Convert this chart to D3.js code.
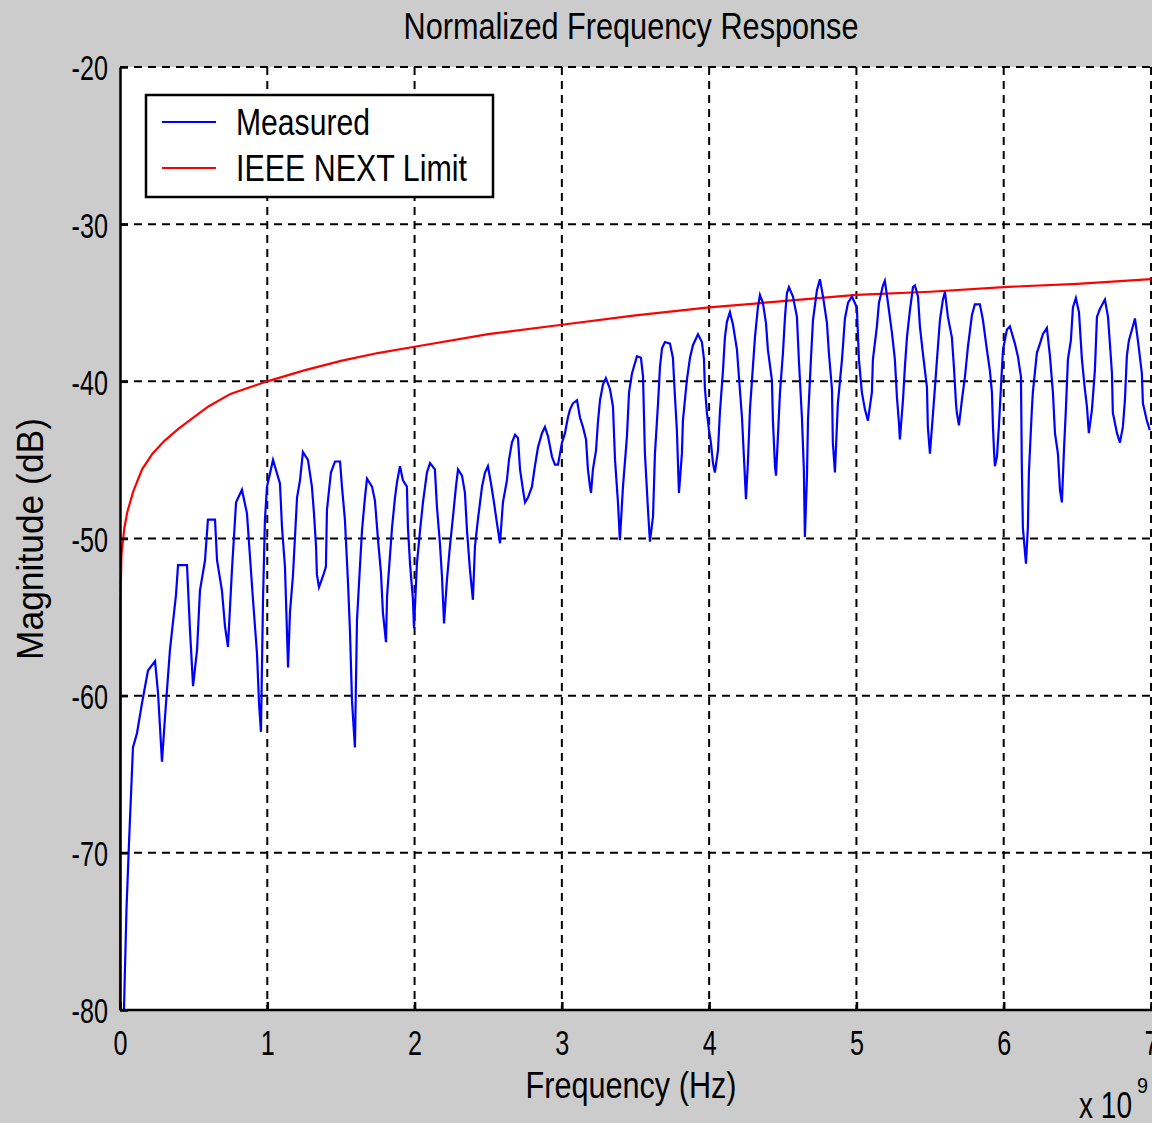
<!DOCTYPE html>
<html lang="en">
<head>
<meta charset="UTF-8">
<title>Normalized Frequency Response</title>
<style>
    body {
        margin: 0;
        background: #cccccc;
    }

    svg text {
        font-family: "Liberation Sans", Arial, sans-serif;
        fill: #000;
    }

    .grid line {
        stroke: #000;
        stroke-width: 2;
        stroke-dasharray: 8, 6;
    }

    .x_axis path,
    .y_axis path,
    .x_axis line,
    .y_axis line {
        stroke: #000;
        stroke-width: 2.5;
    }
</style>
</head>
<body>
<script src="https://cdn.jsdelivr.net/npm/d3@7"></script>
<script>
// measured response, frequency in GHz (axis is x 10^9 Hz)
const measuredFreq = [
    0.015, 0.027, 0.031, 0.044, 0.061, 0.088, 0.115, 0.149, 0.190, 0.238, 0.258, 0.285, 0.306, 0.339, 0.380, 0.394,
    0.455, 0.475, 0.489, 0.496, 0.523, 0.543, 0.577, 0.597, 0.645, 0.659, 0.692, 0.713, 0.733, 0.760, 0.788, 0.828,
    0.862, 0.903, 0.930, 0.944, 0.957, 0.971, 0.984, 0.998, 1.039, 1.086, 1.100, 1.120, 1.141, 1.154, 1.174, 1.202,
    1.222, 1.242, 1.276, 1.303, 1.317, 1.331, 1.337, 1.351, 1.378, 1.398, 1.405, 1.432, 1.460, 1.494, 1.507, 1.527,
    1.548, 1.561, 1.575, 1.595, 1.609, 1.629, 1.643, 1.663, 1.677, 1.711, 1.731, 1.752, 1.772, 1.785, 1.806, 1.813,
    1.826, 1.847, 1.867, 1.881, 1.901, 1.921, 1.948, 1.955, 1.969, 1.989, 1.996, 2.016, 2.037, 2.057, 2.084, 2.105,
    2.138, 2.152, 2.172, 2.186, 2.193, 2.200, 2.220, 2.240, 2.261, 2.281, 2.295, 2.322, 2.342, 2.356, 2.376, 2.396,
    2.410, 2.430, 2.458, 2.478, 2.498, 2.519, 2.539, 2.559, 2.580, 2.600, 2.627, 2.641, 2.661, 2.682, 2.702, 2.716,
    2.736, 2.750, 2.770, 2.797, 2.817, 2.838, 2.865, 2.885, 2.906, 2.933, 2.953, 2.974, 3.001, 3.021, 3.041, 3.055,
    3.075, 3.103, 3.123, 3.143, 3.164, 3.177, 3.191, 3.198, 3.211, 3.232, 3.245, 3.259, 3.279, 3.299, 3.327, 3.347,
    3.361, 3.381, 3.394, 3.415, 3.442, 3.456, 3.476, 3.510, 3.537, 3.551, 3.564, 3.585, 3.598, 3.619, 3.632, 3.653,
    3.666, 3.680, 3.700, 3.734, 3.754, 3.768, 3.781, 3.795, 3.815, 3.822, 3.849, 3.870, 3.890, 3.924, 3.951, 3.965,
    3.971, 3.985, 3.999, 4.012, 4.026, 4.039, 4.060, 4.073, 4.094, 4.107, 4.121, 4.141, 4.162, 4.189, 4.202, 4.223,
    4.236, 4.250, 4.263, 4.277, 4.297, 4.311, 4.331, 4.345, 4.365, 4.386, 4.399, 4.426, 4.433, 4.447, 4.454, 4.467,
    4.481, 4.501, 4.515, 4.528, 4.542, 4.569, 4.596, 4.610, 4.630, 4.643, 4.650, 4.664, 4.671, 4.691, 4.705, 4.732,
    4.752, 4.773, 4.800, 4.813, 4.834, 4.840, 4.854, 4.874, 4.902, 4.922, 4.943, 4.970, 5.003, 5.017, 5.037, 5.058,
    5.078, 5.105, 5.112, 5.139, 5.153, 5.180, 5.193, 5.214, 5.241, 5.261, 5.275, 5.289, 5.295, 5.316, 5.329, 5.343,
    5.363, 5.384, 5.397, 5.418, 5.431, 5.451, 5.479, 5.485, 5.499, 5.513, 5.533, 5.547, 5.567, 5.587, 5.601, 5.621,
    5.648, 5.662, 5.676, 5.682, 5.696, 5.716, 5.737, 5.757, 5.784, 5.804, 5.838, 5.859, 5.886, 5.906, 5.920, 5.927,
    5.934, 5.940, 5.954, 5.967, 5.981, 5.995, 6.022, 6.042, 6.076, 6.096, 6.117, 6.123, 6.130, 6.151, 6.164, 6.171,
    6.191, 6.198, 6.225, 6.246, 6.266, 6.293, 6.314, 6.334, 6.348, 6.368, 6.382, 6.395, 6.409, 6.422, 6.436, 6.456,
    6.470, 6.490, 6.511, 6.531, 6.551, 6.565, 6.578, 6.599, 6.619, 6.633, 6.653, 6.687, 6.708, 6.721, 6.735, 6.741,
    6.769, 6.789, 6.809, 6.823, 6.836, 6.850, 6.877, 6.891, 6.911, 6.938, 6.945, 6.972, 6.992
];
const measuredDb = [
    -80.0, -80.0, -78.4, -73.6, -69.4, -63.3, -62.4, -60.5, -58.4, -57.8, -59.8, -64.2, -61.3, -57.1, -53.6, -51.7,
    -51.7, -55.8, -58.2, -59.4, -57.1, -53.3, -51.4, -48.8, -48.8, -51.4, -53.3, -55.6, -56.9, -52.0, -47.7, -46.9,
    -48.4, -53.9, -57.3, -60.5, -62.3, -53.9, -48.8, -46.7, -45.0, -46.5, -49.3, -51.8, -58.2, -54.7, -52.4, -47.4,
    -46.3, -44.5, -45.0, -46.7, -48.4, -50.5, -52.3, -53.1, -52.4, -51.8, -48.2, -45.8, -45.1, -45.1, -46.7, -48.8,
    -52.8, -55.8, -60.3, -63.3, -55.2, -51.8, -49.5, -47.4, -46.2, -46.7, -47.6, -50.1, -52.2, -54.7, -56.6, -53.7,
    -52.0, -49.3, -47.4, -46.4, -45.4, -46.3, -46.7, -49.3, -51.6, -53.9, -55.7, -51.6, -49.5, -47.7, -45.8, -45.2,
    -45.6, -48.0, -50.3, -52.4, -53.9, -55.4, -52.6, -50.5, -48.6, -46.7, -45.6, -46.0, -47.1, -49.5, -52.0, -53.9,
    -50.5, -48.8, -46.7, -45.8, -45.4, -46.5, -47.7, -49.0, -50.3, -47.7, -46.3, -45.0, -43.9, -43.4, -43.6, -45.6,
    -46.9, -47.7, -47.4, -46.7, -45.4, -44.2, -43.3, -42.9, -43.5, -44.8, -45.3, -45.3, -43.9, -43.3, -42.3, -41.8,
    -41.4, -41.2, -42.3, -42.9, -43.7, -45.6, -46.7, -47.1, -45.6, -44.4, -42.6, -41.2, -40.2, -39.8, -40.5, -41.6,
    -45.0, -47.7, -50.1, -46.7, -43.5, -40.7, -39.5, -38.4, -38.5, -39.7, -44.6, -48.2, -50.2, -48.6, -44.6, -41.4,
    -39.1, -37.9, -37.5, -37.6, -38.5, -41.0, -43.1, -47.1, -44.6, -42.5, -39.9, -38.5, -37.7, -37.0, -37.5, -38.6,
    -40.4, -42.0, -43.1, -43.9, -45.2, -45.8, -44.4, -42.0, -39.3, -37.2, -36.2, -35.6, -36.4, -38.0, -39.7, -42.3,
    -44.8, -47.5, -45.2, -41.8, -39.1, -37.2, -35.3, -34.5, -35.0, -36.3, -38.0, -39.9, -42.5, -45.4, -46.0, -43.5,
    -40.7, -38.2, -35.9, -34.4, -34.0, -34.6, -35.9, -38.8, -42.3, -45.6, -49.9, -46.1, -42.5, -38.6, -36.1, -34.2,
    -33.5, -34.6, -36.3, -38.2, -40.5, -43.9, -45.8, -41.4, -38.6, -36.0, -35.0, -34.6, -35.3, -38.6, -40.7, -41.8,
    -42.5, -40.7, -38.6, -36.5, -35.0, -33.9, -33.6, -35.0, -36.9, -38.6, -41.0, -42.7, -43.7, -41.2, -39.1, -37.2,
    -35.5, -34.0, -33.9, -34.6, -36.5, -38.2, -40.4, -42.9, -44.6, -42.9, -40.4, -38.6, -36.1, -34.8, -34.3, -35.9,
    -37.2, -39.1, -41.4, -42.0, -42.8, -41.2, -39.7, -37.8, -35.8, -35.1, -35.1, -36.1, -38.0, -39.3, -40.7, -42.9,
    -44.4, -45.4, -44.8, -42.9, -40.4, -38.0, -36.7, -36.5, -37.6, -38.4, -39.7, -45.4, -49.3, -51.6, -49.3, -45.8,
    -41.8, -40.7, -38.2, -37.6, -37.0, -36.6, -38.4, -40.7, -43.3, -44.6, -46.9, -47.7, -44.4, -41.8, -38.6, -37.4,
    -35.3, -34.7, -35.6, -38.6, -40.5, -41.6, -43.3, -41.8, -39.3, -35.9, -35.4, -34.8, -35.9, -37.6, -39.5, -42.0,
    -43.3, -43.9, -42.9, -41.2, -38.4, -37.4, -36.5, -36.0, -37.4, -39.5, -41.4, -42.5, -43.1
];

// IEEE NEXT limit line
const limitFreq = [
    0, 0.003, 0.01, 0.03, 0.05, 0.09, 0.15, 0.22, 0.3, 0.4, 0.5, 0.6, 0.75, 1.0, 1.25, 1.5,
    1.75, 2.0, 2.5, 3.0, 3.5, 4.0, 4.5, 5.0, 5.5, 6.0, 6.5, 7.0
];
const limitDb = [
    -80, -54, -51, -49.3, -48.3, -47, -45.6, -44.6, -43.8, -43, -42.3, -41.6, -40.8, -40, -39.3, -38.7,
    -38.2, -37.8, -37.0, -36.4, -35.8, -35.3, -34.9, -34.5, -34.3, -34.0, -33.8, -33.5
];

const xTicks = [0, 1, 2, 3, 4, 5, 6, 7];
const yTicks = [-80, -70, -60, -50, -40, -30, -20];

const svg_w = 1152;
const svg_h = 1123;
const plot_l = 120, plot_r = 1151, plot_t = 67, plot_b = 1010;
const squeeze = 0.7;   // the font in the picture is narrow

const x_scale = d3.scaleLinear([0, 7], [plot_l, plot_r]);
const y_scale = d3.scaleLinear([-80, -20], [plot_b, plot_t]);

const svg = d3.select('body')
    .append('svg')
    .attr('width', svg_w)
    .attr('height', svg_h)
    .style('display', 'block')
    .style('background-color', '#cccccc');

svg.append('rect')
    .attr('x', plot_l).attr('y', plot_t)
    .attr('width', plot_r - plot_l + 5).attr('height', plot_b - plot_t)
    .attr('fill', '#fff');

svg.append('clipPath').attr('id', 'plot_clip')
    .append('rect')
    .attr('x', plot_l - 2).attr('y', plot_t - 2)
    .attr('width', plot_r - plot_l + 10).attr('height', plot_b - plot_t + 4);

// grid
const grid = svg.append('g').attr('class', 'grid');
grid.selectAll('line.v')
    .data(xTicks.slice(1))
    .enter().append('line')
    .attr('class', 'v')
    .attr('x1', d => x_scale(d)).attr('x2', d => x_scale(d))
    .attr('y1', plot_t).attr('y2', plot_b);
grid.selectAll('line.h')
    .data(yTicks.slice(1))
    .enter().append('line')
    .attr('class', 'h')
    .attr('x1', plot_l).attr('x2', svg_w)
    .attr('y1', d => y_scale(d)).attr('y2', d => y_scale(d));

// lines
const line = d3.line()
    .x(d => x_scale(d[0]))
    .y(d => y_scale(d[1]));

const plot = svg.append('g').attr('clip-path', 'url(#plot_clip)');

plot.append('path')
    .datum(limitFreq.map((f, i) => [f, limitDb[i]]))
    .attr('d', line)
    .attr('fill', 'none')
    .attr('stroke', '#ff0000')
    .attr('stroke-width', 2.2);

plot.append('path')
    .datum(measuredFreq.map((f, i) => [f, measuredDb[i]]))
    .attr('d', line)
    .attr('fill', 'none')
    .attr('stroke', '#0000ff')
    .attr('stroke-width', 2.2);

// axes
const x_axis = d3.axisBottom(x_scale).tickValues(xTicks).tickFormat(d => String(d))
    .tickSize(-8).tickSizeOuter(0).tickPadding(19);
const y_axis = d3.axisLeft(y_scale).tickValues(yTicks).tickFormat(d => String(d))
    .tickSize(-8).tickSizeOuter(0).tickPadding(12);

const gx = svg.append('g')
    .attr('class', 'x_axis')
    .attr('transform', `translate(0, ${plot_b})`)
    .call(x_axis);
gx.select('.domain').attr('d', `M${plot_l},0H${svg_w}`);
gx.selectAll('text')
    .attr('font-size', 36)
    .attr('font-family', null)
    .attr('transform', `scale(${squeeze},1)`);

const gy = svg.append('g')
    .attr('class', 'y_axis')
    .attr('transform', `translate(${plot_l}, 0)`)
    .call(y_axis);
gy.selectAll('text')
    .attr('font-size', 36)
    .attr('font-family', null)
    .attr('x', -12 / squeeze)
    .attr('dy', '0.36em')
    .attr('transform', `scale(${squeeze},1)`);

// labels
function label(txt, x, y, width, opts = {}) {
    const t = svg.append('text')
        .attr('x', x).attr('y', y)
        .attr('font-size', opts.size || 36)
        .attr('text-anchor', opts.anchor || 'middle')
        .attr('textLength', width)
        .attr('lengthAdjust', 'spacingAndGlyphs')
        .text(txt);
    if (opts.rotate) t.attr('transform', `rotate(-90, ${x}, ${y})`);
    return t;
}

label('Normalized Frequency Response', 631, 39, 455);
label('Frequency (Hz)', 631, 1098, 211);
label('Magnitude (dB)', 43, 539, 242, { rotate: true });
label('x 10', 1079, 1118, 53, { anchor: 'start' });
label('9', 1137, 1093, 11, { anchor: 'start', size: 22 });

// legend
const legend = svg.append('g');
legend.append('rect')
    .attr('x', 146).attr('y', 95)
    .attr('width', 347).attr('height', 102)
    .attr('fill', '#fff')
    .attr('stroke', '#000')
    .attr('stroke-width', 2.5);

const legendItems = [
    { name: 'Measured', color: '#0000ff', width: 134 },
    { name: 'IEEE NEXT Limit', color: '#ff0000', width: 231 }
];
legendItems.forEach((d, i) => {
    const cy = 122 + i * 46;
    legend.append('line')
        .attr('x1', 162).attr('x2', 216)
        .attr('y1', cy).attr('y2', cy)
        .attr('stroke', d.color)
        .attr('stroke-width', 2.2);
    label(d.name, 236, cy + 13, d.width, { anchor: 'start' });
});
</script>
</body>
</html>
